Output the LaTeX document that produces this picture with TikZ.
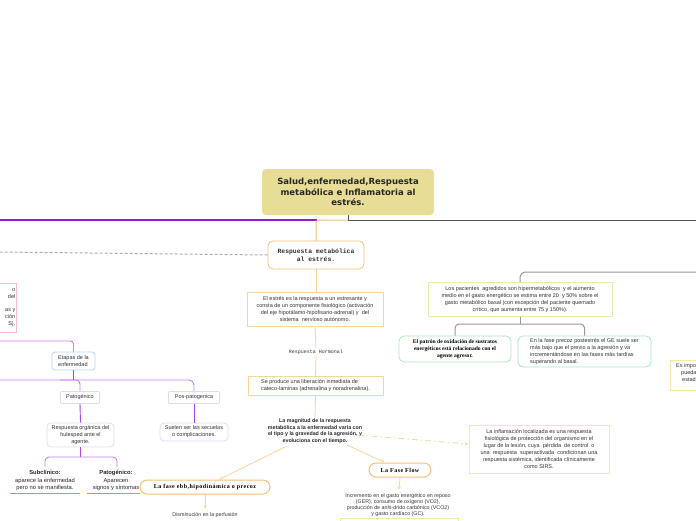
\documentclass[tikz,border=0pt]{standalone}
\usepackage{fontspec}
\setmainfont{Liberation Sans}
\newfontfamily\monof{Liberation Mono}
\newfontfamily\titlef{DejaVu Sans}
\newfontfamily\slabf{Liberation Serif}
\newfontfamily\slabsp[LetterSpace=8]{Liberation Serif}
\usetikzlibrary{arrows.meta}
\definecolor{txt}{RGB}{51,51,51}
\definecolor{khaki}{RGB}{232,221,150}
\definecolor{orng}{RGB}{247,190,120}
\definecolor{lorng}{RGB}{250,212,155}
\definecolor{purp}{RGB}{140,30,215}
\definecolor{lpurp}{RGB}{200,125,240}
\definecolor{dpurp}{RGB}{165,70,230}
\definecolor{dgray}{RGB}{85,85,85}
\definecolor{mgray}{RGB}{150,150,150}
\definecolor{pinkc}{RGB}{248,185,210}
\definecolor{lblue}{RGB}{185,215,240}
\definecolor{lav}{RGB}{225,218,242}
\definecolor{ygreen}{RGB}{228,236,175}
\definecolor{mint}{RGB}{170,230,195}
\definecolor{lyel}{RGB}{250,232,165}
\begin{document}
\begin{tikzpicture}[x=1pt,y=-1pt,
  tx/.style={inner sep=0pt, text=txt, align=center, font=\fontsize{5.5}{7}\selectfont},
  bx/.style={tx, draw, fill=white, line width=0.8pt},
  oline/.style={draw=lorng, line width=0.8pt},
  arr/.style={oline, -{Stealth[length=4pt,width=3pt]}},
  gline/.style={draw=mgray, line width=1pt},
  lp/.style={draw=lpurp, line width=0.9pt},
  dp/.style={draw=dpurp, line width=0.9pt}
]
\useasboundingbox (0,0) rectangle (696,520);

% ---------- top lines
\draw[draw=purp, line width=1.5pt] (317,220) -- (0,220);
\node[tx, fill=khaki, rounded corners=4pt, minimum width=172pt, minimum height=46pt,
  font=\titlef\bfseries\fontsize{8.5}{10.5}\selectfont, text=black!85] (title) at (348,192)
  {Salud,enfermedad,Respuesta\\metabólica e Inflamatoria al\\estrés.};
\draw[draw=dgray, line width=1pt] (title.south) -- (348,220) -- (696,220);
\draw[draw=orng, line width=1pt, rounded corners=3pt] (348,220) -- (316,220) -- (316,241);

% ---------- central column
\node[bx, draw=orng, rounded corners=5pt, minimum width=96pt, minimum height=28pt,
  font=\monof\bfseries\fontsize{6.4}{7.5}\selectfont] (resp) at (316,255)
  {Respuesta metabólica\\al estrés.};
\draw[draw=mgray!80, line width=1pt, dash pattern=on 3pt off 2pt] (resp.west) -- (0,252);

\node[bx, draw=lorng, minimum width=136pt, minimum height=34pt] (estres) at (315,309)
  {El estrés es la respuesta a un estresante y\\consta de un componente fisiológico (activación\\del eje hipotálamo-hipofisario-adrenal) y \ del\\sistema \ nervioso autónomo.};
\node[tx, font=\monof\fontsize{5}{6}\selectfont, fill=white, inner sep=1pt] (hormonal) at (316,352) {Respuesta Hormonal};
\node[bx, draw=lorng, align=left, minimum width=135pt, minimum height=19pt] (produce) at (315.5,386)
  {Se produce una liberación inmediata de\\cateco-laminas (adrenalina y noradrenalina).};
\node[tx, font=\bfseries\fontsize{5.3}{6.6}\selectfont, text=black!85] (magnitud) at (315,431)
  {La magnitud de la respuesta\\metabólica a la enfermedad varía con\\el tipo y la gravedad de la agresión, y\\evoluciona con el tiempo.};
\draw[oline] (resp.south) -- (316,292);
\draw[oline] (estres.south) -- (hormonal.north);
\draw[oline] (hormonal.south) -- (produce.north);
\draw[oline] (produce.south) -- (magnitud.north);

\node[bx, draw=lyel, minimum width=140pt, minimum height=48pt] (inflam) at (539,449)
  {La inflamación localizada es una respuesta\\fisiológica de protección del organismo en el\\lugar de la lesión, cuya \ pérdida \ de control \ o\\una \ respuesta \ superactivada \ condicionan una\\respuesta sistémica, identificada clínicamente\\como SIRS.};

\node[bx, draw=orng, line width=1pt, rounded corners=7pt, minimum width=62pt, minimum height=14pt,
  font=\slabsp\bfseries\fontsize{6}{7}\selectfont, text=black] (flow) at (400,470) {La Fase Flow};
\node[tx, font=\fontsize{5.3}{6}\selectfont] (flowtxt) at (398,505)
  {Incremento en el gasto energético en reposo\\(GER), consumo de oxígeno (VO2),\\producción de anhi-drido carbónico (VCO2)\\y gasto cardíaco (GC).};
\draw[draw=ygreen, line width=1pt] (340,540) -- (340,518) -- (458,518) -- (458,540);

% ---------- left side
\node[bx, draw=pinkc, minimum width=140pt, minimum height=49pt, anchor=north east] (pinkbox) at (17,283) {};
\node[tx, anchor=east, align=right, font=\fontsize{5.5}{6.7}\selectfont] (pinktxt) at (15.5,307.5)
  {o\\del\\ \\as y\\ción\\S).};

\node[bx, draw=lblue, rounded corners=3pt, align=left, minimum width=43pt, minimum height=18pt] (etapas) at (73.5,361)
  {Etapas de la\\enfermedad};
\draw[lp, rounded corners=3pt] (0,341) -- (73.5,341) -- (etapas.north);
\node[bx, draw=lav, rounded corners=1pt, minimum width=39pt, minimum height=12pt] (patog) at (80,397.5) {Patogénico};
\node[bx, draw=lav, rounded corners=1pt, minimum width=51pt, minimum height=12pt] (pospat) at (194,397.5) {Pos-patogenica};
\draw[lp, rounded corners=5pt] (0,380) -- (194,380) -- (pospat.north);
\draw[lp, rounded corners=4pt] (60,380) -- (80,380) -- (patog.north);
\draw[dp] (etapas.south) -- (73.5,380);

\node[bx, draw=lav, rounded corners=4pt, minimum width=67pt, minimum height=24pt] (organica) at (80.5,435)
  {Respuesta orgánica del\\hulesped ante el\\agente.};
\node[bx, draw=lav, rounded corners=4pt, minimum width=68pt, minimum height=18pt] (secuelas) at (194,432)
  {Suelen ser las secuelas\\o complicaciones.};
\draw[dp] (patog.south) -- (organica.north);
\draw[dp] (pospat.south) -- (secuelas.north);
\draw[dp] (organica.south) -- (80.5,457);
\draw[lp, rounded corners=4pt] (45,467) -- (45,457) -- (117,457) -- (117,467);

\node[tx, font=\fontsize{5.8}{7.2}\selectfont, text=black!85] (subc) at (45,480.5)
  {\textbf{Subclínico:}\\aparece la enfermedad\\pero no se manifiesta.};
\node[tx, font=\fontsize{5.8}{7.2}\selectfont, text=black!85] (patog2) at (116,480.5)
  {\textbf{Patogénico:}\\Aparecen\\signos y síntomas};
\draw[lp] (10,493) -- (80,493);
\draw[lp] (87,493) -- (140,493);

\node[bx, draw=orng, line width=1pt, rounded corners=7pt, minimum width=130pt, minimum height=14pt,
  font=\slabsp\bfseries\fontsize{6}{7}\selectfont, text=black] (ebb) at (205,487) {La fase ebb,hipodinámica o precoz};
\node[tx, font=\fontsize{5.3}{6}\selectfont, anchor=north] (ebbtxt) at (205,512.5) {Disminución en la perfusión};

% ---------- arrows from magnitud
\coordinate (m1) at (287,446);
\coordinate (m2) at (347,445);
\coordinate (m3) at (358,435);
\draw[arr] (m1) -- ([xshift=14pt]ebb.north);
\draw[arr] (m2) -- ([xshift=-15pt]flow.north);
\draw[arr, dash pattern=on 6pt off 3pt on 1.5pt off 3pt] (m3) -- ([yshift=5pt]inflam.west);
\draw[arr] (flow.south) -- (399,490);
\draw[arr] (ebb.south) -- (205,509);

% ---------- right side
\node[bx, draw=ygreen, minimum width=184pt, minimum height=34pt] (pac) at (520,299.5)
  {Los pacientes \ agredidos son hipermetabólicos \ y el aumento\\medio en el gasto energético se estima entre 20 \ y 50\% sobre el\\gasto metabólico basal (con excepción del paciente quemado\\crítico, que aumenta entre 75 y 150\%).};
\draw[gline, rounded corners=5pt] (700,272) -- (520,272) -- (pac.north);
\node[bx, draw=mint, rounded corners=5pt, minimum width=112pt, minimum height=26pt,
  font=\slabf\bfseries\fontsize{5.6}{6.8}\selectfont, text=black] (patron) at (455,349)
  {El patrón de oxidación de sustratos\\energéticos está relacionado con el\\agente agresor.};
\node[bx, draw=mint, rounded corners=5pt, align=left, minimum width=133pt, minimum height=31pt] (fase) at (584.5,351.5)
  {En la fase precoz postestrés el GE suele ser\\más bajo que el previo a la agresión y va\\incrementándose en las fases más tardías\\superando al basal.};
\draw[gline] (pac.south) -- (520,324);
\draw[gline, rounded corners=4pt] (patron.north) -- (455,324) -- (584.5,324) -- (fase.north);

\node[bx, draw=lyel, minimum width=60pt, minimum height=30pt, anchor=north west] (esbox) at (670,360) {};
\node[tx, anchor=west, align=left, font=\fontsize{5.5}{7}\selectfont] (estxt) at (676,373)
  {Es impo\\\hspace*{5pt}pueda\\\hspace*{6pt}estad};
\end{tikzpicture}
\end{document}
